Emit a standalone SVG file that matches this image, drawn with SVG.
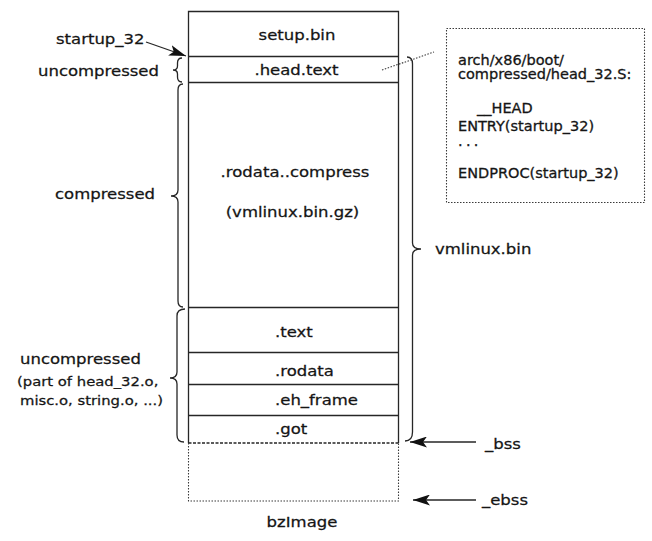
<svg xmlns="http://www.w3.org/2000/svg" width="652" height="541" viewBox="0 0 652 541">
<style>
  .t { font-family: "DejaVu Sans", "Liberation Sans", sans-serif; font-size: 16.5px; fill: #151515; stroke: #151515; stroke-width: 0.3; transform-box: fill-box; transform-origin: 50% 80%; transform: scaleY(0.86); }
  .s { font-size: 14.5px; transform: none; }
  .m { font-size: 14.8px; }
  .mid { text-anchor: middle; }
  .ln { fill: none; stroke: #262626; stroke-width: 1.3; }
  .dot { fill: none; stroke: #3a3a3a; stroke-width: 1.1; stroke-dasharray: 1.5 1.5; }
  .brace { fill: none; stroke: #262626; stroke-width: 1.3; }
</style>
<defs>
  <marker id="ah" viewBox="0 0 17 11" refX="17" refY="5.5" markerWidth="17" markerHeight="11" markerUnits="userSpaceOnUse" orient="auto">
    <path d="M0,0 L17,5.5 L0,11 L4,5.5 z" fill="#111"/>
  </marker>
</defs>
<rect width="652" height="541" fill="#ffffff"/>

<g id="bzimage">
  <path class="ln" d="M188.5,443 V11.5 H398.5 V443"/>
  <line class="ln" x1="188.5" y1="443" x2="398.5" y2="443" stroke-dasharray="3 1.5"/>
  <path class="dot" d="M188.5,443 V501 H398.5 V443"/>
  <text class="t mid" x="302" y="527">bzImage</text>
</g>

<g id="setup-bin">
  <text class="t mid" x="297" y="40">setup.bin</text>
</g>
<g id="head-text">
  <line class="ln" x1="188.5" y1="56.5" x2="398.5" y2="56.5"/>
  <text class="t mid" x="296.5" y="75">.head.text</text>
</g>
<g id="rodata-compress">
  <line class="ln" x1="188.5" y1="82.5" x2="398.5" y2="82.5"/>
  <text class="t mid" x="295" y="177">.rodata..compress</text>
  <text class="t mid" x="292.5" y="217">(vmlinux.bin.gz)</text>
</g>
<g id="text">
  <line class="ln" x1="188.5" y1="307.5" x2="398.5" y2="307.5"/>
  <text class="t" x="275" y="337">.text</text>
</g>
<g id="rodata">
  <line class="ln" x1="188.5" y1="352.5" x2="398.5" y2="352.5"/>
  <text class="t" x="275" y="376">.rodata</text>
</g>
<g id="eh-frame">
  <line class="ln" x1="188.5" y1="384.5" x2="398.5" y2="384.5"/>
  <text class="t" x="275" y="405">.eh_frame</text>
</g>
<g id="got">
  <line class="ln" x1="188.5" y1="415.5" x2="398.5" y2="415.5"/>
  <text class="t" x="275" y="434">.got</text>
</g>

<g id="head32-note">
  <rect class="dot" x="446.5" y="28.5" width="198" height="174"/>
  <text class="t s" x="458" y="64.5">arch/x86/boot/</text>
  <text class="t s" x="458" y="79">compressed/head_32.S:</text>
  <text class="t s" x="477" y="113">__HEAD</text>
  <text class="t s" x="458" y="131">ENTRY(startup_32)</text>
  <text class="t s" x="458" y="145.5" letter-spacing="3.3">...</text>
  <text class="t s" x="458" y="178">ENDPROC(startup_32)</text>
</g>

<g id="labels">
  <text class="t" x="56" y="44">startup_32</text>
  <text class="t" x="38" y="75.5">uncompressed</text>
  <text class="t" x="55" y="199">compressed</text>
  <text class="t" x="20" y="364">uncompressed</text>
  <text class="t m" x="17" y="386">(part of head_32.o,</text>
  <text class="t m" x="20" y="405.5">misc.o, string.o, ...)</text>
  <text class="t" x="435" y="254">vmlinux.bin</text>
  <text class="t" x="485" y="449">_bss</text>
  <text class="t" x="482" y="505">_ebss</text>
</g>

<g id="connectors">
  <line class="ln" x1="146" y1="42" x2="186" y2="56" marker-end="url(#ah)"/>
  <line class="ln" x1="476" y1="442" x2="410" y2="442" marker-end="url(#ah)"/>
  <line class="ln" x1="476" y1="500" x2="413" y2="500" marker-end="url(#ah)"/>
  <line class="dot" x1="382" y1="70" x2="434" y2="52" stroke-dasharray="2 2"/>
  <path class="brace" d="M182,58 Q177.5,58 177.5,63 L177.5,66 Q177.5,70 173,70 Q177.5,70 177.5,74 L177.5,77 Q177.5,82 182,82"/>
  <path class="brace" d="M183,84 Q178,84 178,90 L178,190 Q178,196 171,196 Q178,196 178,202 L178,301 Q178,307 183,307"/>
  <path class="brace" d="M185,309 Q177,309 177,316 L177,372 Q177,378 170,378 Q177,378 177,384 L177,435 Q177,442 184,442"/>
  <path class="brace" d="M407,57 Q412.5,57 412.5,64 L412.5,243 Q412.5,249 421,249 Q412.5,249 412.5,255 L412.5,432 Q412.5,441 405,441"/>
</g>
</svg>
